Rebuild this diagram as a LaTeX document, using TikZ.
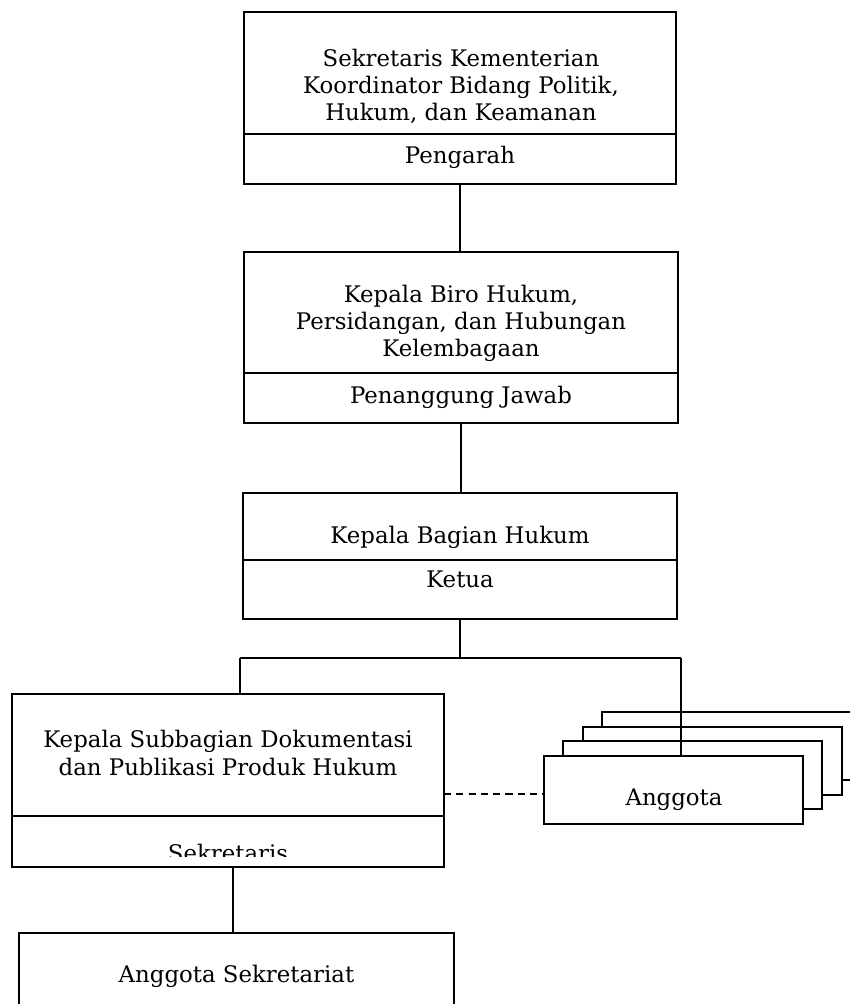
\documentclass[tikz,border=0pt]{standalone}
\usepackage{fontspec}
\setmainfont{DejaVu Serif}
\usetikzlibrary{positioning}

\begin{document}
\begin{tikzpicture}[x=0.02cm, y=-0.02cm, line width=1.1pt,
    part/.style ={rectangle, draw, inner sep=0pt, outer sep=0pt},
    member/.style ={part, fill=white, minimum width=5.18cm, minimum height=1.36cm},
    txt/.style ={align=center, inner sep=0pt, font=\fontsize{13}{15.4}\selectfont},
    dashline/.style ={dash pattern=on 4pt off 3pt}]
   \useasboundingbox (0,0) rectangle (849,1004);

   % Pengarah
   \node[part, minimum width=8.64cm, minimum height=2.44cm] (sesmenko) at (460,73) {};
   \node[part, minimum width=8.64cm, minimum height=1cm, below=0pt of sesmenko] (pengarah) {};
   \node[txt] (sesmenkotxt) at (461,86) {Sekretaris Kementerian\\Koordinator Bidang Politik,\\Hukum, dan Keamanan};
   \node[txt] (pengarahtxt) at (460,157) {Pengarah};

   % Penanggung Jawab
   \node[part, minimum width=8.68cm, minimum height=2.42cm] (karo) at (461,312.5) {};
   \node[part, minimum width=8.68cm, minimum height=1cm, below=0pt of karo] (pj) {};
   \node[txt] (karotxt) at (461,323) {Kepala Biro Hukum,\\Persidangan, dan Hubungan\\Kelembagaan};
   \node[txt] (pjtxt) at (461,397) {Penanggung Jawab};

   % Ketua
   \node[part, minimum width=8.68cm, minimum height=1.34cm] (kabag) at (460,526.5) {};
   \node[part, minimum width=8.68cm, minimum height=1.18cm, below=0pt of kabag] (ketua) {};
   \node[txt] (kabagtxt) at (460,537) {Kepala Bagian Hukum};
   \node[txt] (ketuatxt) at (460,579) {Ketua};

   % Sekretaris
   \node[part, minimum width=8.64cm, minimum height=2.44cm] (kasubag) at (228,755) {};
   \node[part, minimum width=8.64cm, minimum height=1.02cm, below=0pt of kasubag] (sekr) {};
   \node[txt] (kasubagtxt) at (228,753) {Kepala Subbagian Dokumentasi\\dan Publikasi Produk Hukum};
   \begin{scope}
     \clip (12,816) rectangle (444,856);
     \node[txt] (sekrtxt) at (228,853) {Sekretaris};
   \end{scope}

   % Anggota Sekretariat
   \node[part, minimum width=8.7cm, minimum height=2cm] (angsek) at (236.5,983) {};
   \node[txt] (angsektxt) at (236.5,976) {Anggota Sekretariat};

   % Anggota
   \foreach \k in {3,2,1}
     \node[member] (anggota\k) at (673.5+19.3*\k,790-14.7*\k) {};
   \node[member] (anggota) at (673.5,790) {};
   \node[txt] (anggotatxt) at (674,800) {Anggota};

   \coordinate (forkL) at (240,658);
   \coordinate (forkR) at (681,658);
   \coordinate (sekline) at (233,867);
   \coordinate (dashL) at (444,794);

   \draw (pengarah.south) -- (pengarah.south |- karo.north);
   \draw (pj.south) -- (pj.south |- kabag.north);
   \draw (ketua.south) -- (ketua.south |- forkL);
   \draw (forkL) -- (forkR);
   \draw (forkL) -- (forkL |- kasubag.north);
   \draw (forkR) -- (forkR |- anggota.north);
   \draw (sekline) -- (sekline |- angsek.north);
   \draw[dashline] (dashL) -- (dashL -| anggota.west);
\end{tikzpicture}
\end{document}
